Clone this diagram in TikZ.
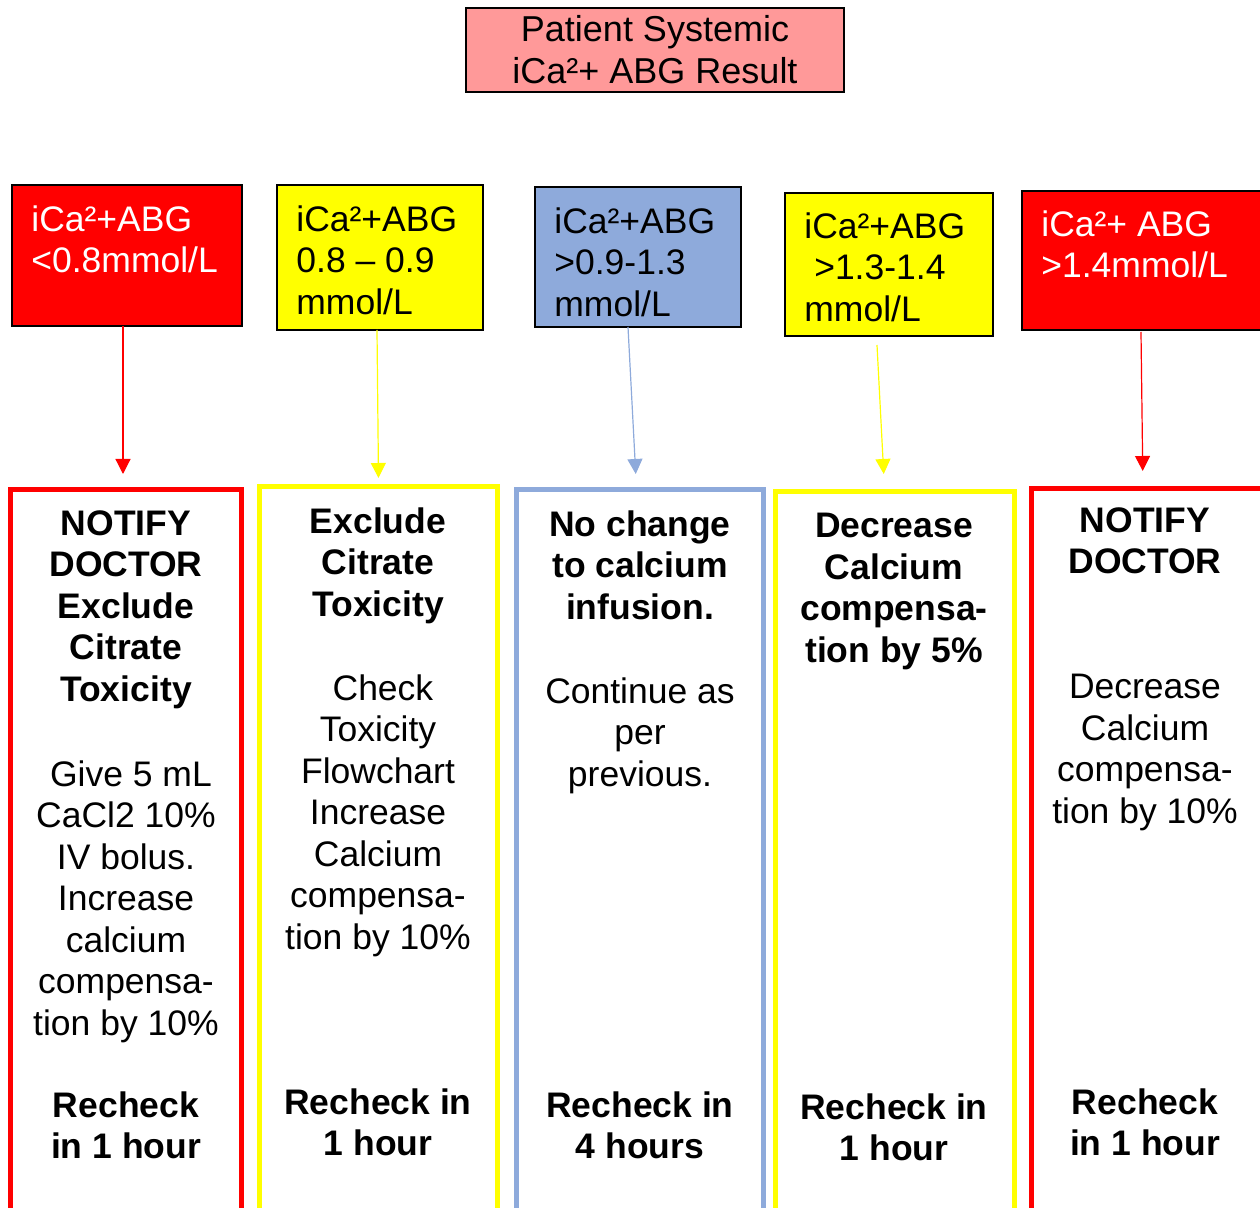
\documentclass[tikz,border=0pt]{standalone}
\usepackage{fontspec}
\setmainfont{Liberation Sans}
\usetikzlibrary{arrows.meta}

\definecolor{abgpink}{HTML}{FF9999}
\definecolor{abgred}{HTML}{FF0000}
\definecolor{abgyellow}{HTML}{FFFF00}
\definecolor{abgblue}{HTML}{8EAADB}

\tikzset{
  rangebox/.style={draw=black, line width=0.8pt, outer sep=0pt, inner sep=0pt},
  rangetext/.style={anchor=north west, inner sep=0pt, align=left, font=\fontsize{17.75}{20.75}\selectfont},
  actionbox/.style={draw=#1, line width=2.5pt, anchor=north, outer sep=0pt, minimum height=380pt},
  plaintext/.style={anchor=north, inner sep=0pt, align=center, font=\fontsize{17.75}{20.75}\selectfont},
  boldtext/.style={plaintext, font=\fontsize{17.75}{20.75}\selectfont\bfseries},
  flow/.style={line width=0.6pt, -{Triangle[length=7.5pt, width=7.5pt]}},
}

\begin{document}
\begin{tikzpicture}[x=0.5pt, y=0.5pt]
  \useasboundingbox (0,0) rectangle (1260,1207);
  \clip (0,0) rectangle (1260,1207);

  % result
  \node[rangebox, fill=abgpink, minimum width=189pt, minimum height=42pt, align=center,
        font=\fontsize{18}{21}\selectfont] (abg) at (655,1157) {Patient Systemic\\iCa²+ ABG Result};

  % ranges
  \node[rangebox, fill=abgred, minimum width=115pt, minimum height=70.5pt] (r1) at (127,951.5) {};
  \node[rangebox, fill=abgyellow, minimum width=103pt, minimum height=72.5pt] (r2) at (380,949.5) {};
  \node[rangebox, fill=abgblue, minimum width=103pt, minimum height=70pt] (r3) at (638,950) {};
  \node[rangebox, fill=abgyellow, minimum width=104pt, minimum height=71.5pt] (r4) at (889,942.5) {};
  \node[rangebox, fill=abgred, minimum width=126.5pt, minimum height=69.5pt] (r5) at (1148.5,946.5) {};

  \node[rangetext, text=white] (t1) at (31,1002) {iCa²+ABG\\<0.8mmol/L};
  \node[rangetext] (t2) at (296,1002) {iCa²+ABG\\0.8 – 0.9\\mmol/L};
  \node[rangetext] (t3) at (554,1000) {iCa²+ABG\\>0.9-1.3\\mmol/L};
  \node[rangetext] (t4) at (804,995) {iCa²+ABG\\\ >1.3-1.4\\mmol/L};
  \node[rangetext, text=white] (t5) at (1041,997) {iCa²+ ABG\\>1.4mmol/L};

  % actions
  \node[actionbox=abgred, minimum width=115.5pt] (a1) at (126,717) {};
  \node[actionbox=abgyellow, minimum width=119pt] (a2) at (378.5,720) {};
  \node[actionbox=abgblue, minimum width=123.75pt] (a3) at (639.75,717) {};
  \node[actionbox=abgyellow, minimum width=119.25pt] (a4) at (894.75,715) {};
  \node[actionbox=abgred, minimum width=129.25pt] (a5) at (1160.75,718) {};

  \draw[flow, abgred] ([shift={(-4,0)}]r1.south) -- ([shift={(-3,16)}]a1.north);
  \draw[flow, abgyellow] ([shift={(-3,0)}]r2.south) -- ([shift={(0,9)}]a2.north);
  \draw[flow, abgblue] ([shift={(-10,0)}]r3.south) -- ([shift={(-4,16)}]a3.north);
  \draw[flow, abgyellow] ([shift={(-12,-9)}]r4.south) -- ([shift={(-11,18)}]a4.north);
  \draw[flow, abgred] ([shift={(-7.5,-2)}]r5.south) -- ([shift={(-18,18)}]a5.north);

  % texts in the actions
  \node[boldtext] (h1) at (126,697) {NOTIFY\\DOCTOR\\Exclude\\Citrate\\Toxicity};
  \node[plaintext] (b1) at (126,447) {\mbox{}\ Give 5 mL\\CaCl2 10\%\\IV bolus.\\Increase\\calcium\\compensa-\\tion by 10\%};
  \node[boldtext] (c1) at (126,116) {Recheck\\in 1 hour};

  \node[boldtext] (h2) at (378,700) {Exclude\\Citrate\\Toxicity};
  \node[plaintext] (b2) at (378,533) {\mbox{}\ Check\\Toxicity\\Flowchart\\Increase\\Calcium\\compensa-\\tion by 10\%};
  \node[boldtext] (c2) at (378,119) {Recheck in\\1 hour};

  \node[boldtext] (h3) at (640,697) {No change\\to calcium\\infusion.};
  \node[plaintext] (b3) at (640,530) {Continue as\\per\\previous.};
  \node[boldtext] (c3) at (640,116) {Recheck in\\4 hours};

  \node[boldtext] (h4) at (894,694) {Decrease\\Calcium\\compensa-\\tion by 5\%};
  \node[boldtext] (c4) at (894,114) {Recheck in\\1 hour};

  \node[boldtext] (h5) at (1145,700) {NOTIFY\\DOCTOR};
  \node[plaintext] (b5) at (1145,533) {Decrease\\Calcium\\compensa-\\tion by 10\%};
  \node[boldtext] (c5) at (1145,119) {Recheck\\in 1 hour};
\end{tikzpicture}
\end{document}
